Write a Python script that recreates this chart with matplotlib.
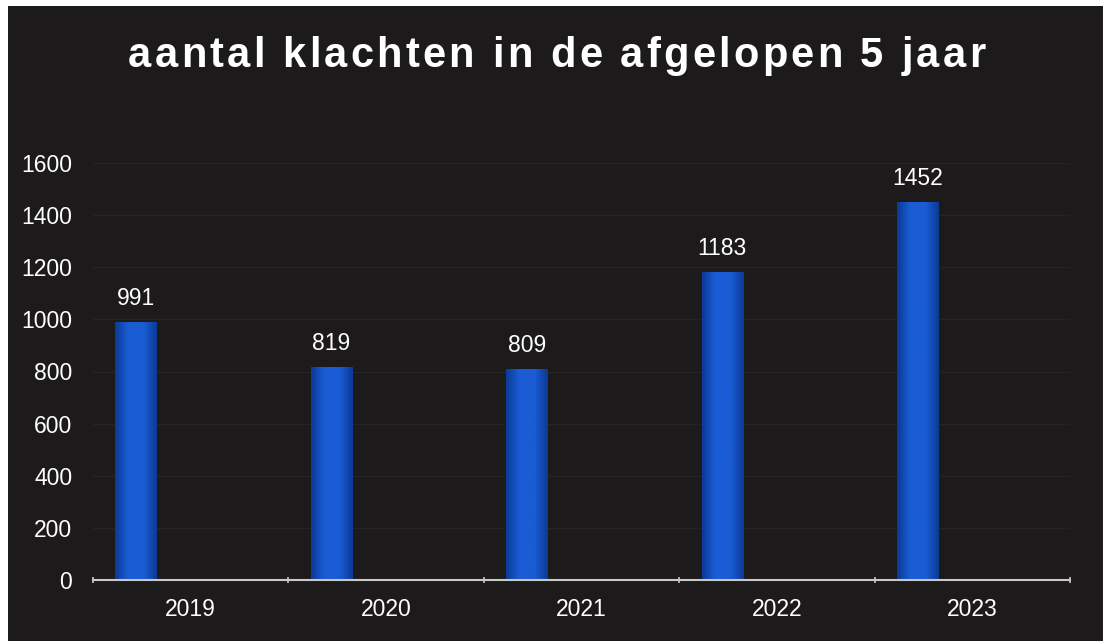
import matplotlib
matplotlib.use("Agg")
import matplotlib.pyplot as plt
import numpy as np
from matplotlib.patches import Rectangle
from matplotlib.colors import LinearSegmentedColormap
from matplotlib.font_manager import FontProperties

years = ["2019", "2020", "2021", "2022", "2023"]
counts = [991, 819, 809, 1183, 1452]
yticks = [0, 200, 400, 600, 800, 1000, 1200, 1400, 1600]
title = "aantal klachten in de afgelopen 5 jaar"

W, H = 1112, 641
fig = plt.figure(figsize=(W / 100, H / 100), dpi=100)
fig.patch.set_facecolor("white")
bg = "#1d1a1b"
fig.patches.append(Rectangle((8 / W, 0), (1103 - 8) / W, (641 - 6) / H,
                             transform=fig.transFigure, facecolor=bg,
                             edgecolor="none", zorder=-5))

ax = fig.add_axes([93 / W, 1 - 580 / H, (1070 - 93) / W, (580 - 163) / H])
ax.set_zorder(2)
ax.set_facecolor("none")
ax.set_xlim(0, len(years))
ax.set_ylim(0, 1600)

fs = 16.5
for s in ["top", "right", "left"]:
    ax.spines[s].set_visible(False)
ax.spines["bottom"].set_color("#c8c8c8")
ax.spines["bottom"].set_linewidth(1.5)

ax.set_yticks(yticks)
ax.set_yticklabels([str(v) for v in yticks])
ax.tick_params(axis="y", length=0, pad=15, labelsize=fs, labelcolor="white")
ax.set_xticks(np.arange(len(years) + 1))
ax.set_xticklabels([])
ax.set_xticks(np.arange(len(years)) + 0.5, minor=True)
ax.set_xticklabels(years, minor=True)
ax.tick_params(axis="x", which="major", length=4, direction="inout", color="#c8c8c8", width=1.2)
ax.tick_params(axis="x", which="minor", length=0, pad=13, labelsize=fs, labelcolor="white")
for lab in ax.get_yticklabels() + ax.get_xticklabels(minor=True):
    lab.set_fontfamily("Liberation Sans")

for v in yticks[1:]:
    ax.axhline(v, color="#272324", lw=1, zorder=0.5)

offset = -0.28
width = 0.21
grad = np.linspace(0, 1, 64)
grad = np.clip((1 - np.abs(grad - 0.5) * 2) * 1.6, 0, 1)
cmap = LinearSegmentedColormap.from_list("b", ["#0b3a96", "#1a5cd4"])
for i, c in enumerate(counts):
    x0 = i + 0.5 + offset - width / 2
    rect = Rectangle((x0, 0), width, c, facecolor="#144fbd", edgecolor="none", zorder=2)
    ax.add_patch(rect)
    im = ax.imshow(grad[np.newaxis, :], extent=(x0, x0 + width, 0, c), aspect="auto",
                   cmap=cmap, zorder=2.1, interpolation="bicubic")
    im.set_clip_path(rect)
    ax.text(i + 0.5 + offset, c + 45, str(c), ha="center", va="bottom",
            color="white", fontsize=fs, fontfamily="Liberation Sans")
ax.set_xlim(0, len(years))
ax.set_ylim(0, 1600)

# letter-spaced title
prop = FontProperties(family="Liberation Sans", weight="bold", size=30)
fig.canvas.draw()
renderer = fig.canvas.get_renderer()
def tw(s):
    t = fig.text(0, 0, s, fontproperties=prop)
    w = t.get_window_extent(renderer).width
    t.remove()
    return w
base = tw("II")
adv = [tw("I" + ch + "I") - base for ch in title]
x_left, x_right = 128, 985
gap = (x_right - x_left - sum(adv)) / (len(title) - 1)
x = x_left
for ch, a in zip(title, adv):
    fig.text(x / W, 1 - 67 / H, ch, fontproperties=prop, color="white",
             ha="left", va="baseline")
    x += a + gap

fig.savefig("out.png", dpi=100, facecolor=fig.get_facecolor())
